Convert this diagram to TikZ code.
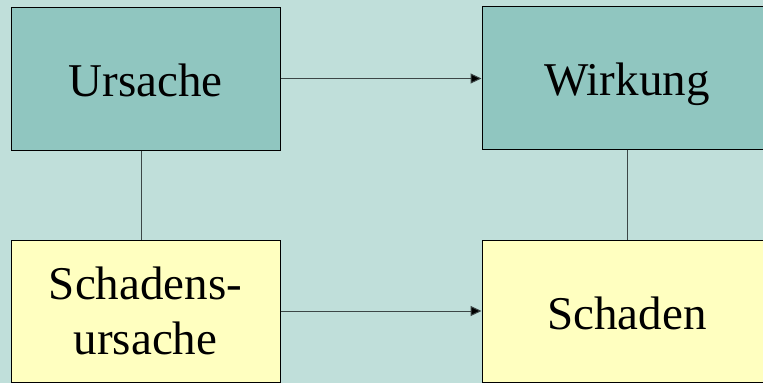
\documentclass[tikz,border=0pt]{standalone}
\usepackage{fontspec}
\setmainfont{Liberation Serif}
\usetikzlibrary{arrows.meta}
\definecolor{bgc}{HTML}{C0DFDA}
\definecolor{tealc}{HTML}{90C6C0}
\definecolor{yelc}{HTML}{FFFFC0}
\definecolor{linec}{HTML}{3C4646}
\tikzset{
  box/.style={draw=black, line width=1pt, rectangle, inner sep=0pt, align=center,
    font=\fontsize{47}{55.7}\selectfont},
  oneline/.style={text height=36pt, text depth=0pt},
  topbox/.style={box, oneline, fill=tealc},
  botbox/.style={box, fill=yelc},
  conn/.style={draw=linec, line width=1pt},
  arr/.style={conn, -{Triangle[length=11pt,width=10pt,fill=black]}}
}
\begin{document}
\begin{tikzpicture}[x=1pt,y=-1pt]
\useasboundingbox (0,0) rectangle (763,383);
\clip (0,0) rectangle (763,383);
\fill[bgc] (0,0) rectangle (763,383);
\node[topbox, minimum width=269pt, minimum height=143pt] (ursache) at (145.5,78.5) {Ursache};
\node[topbox, minimum width=290pt, minimum height=143pt] (wirkung) at (627,77.5) {Wirkung};
\node[botbox, minimum width=269pt, minimum height=142pt] (sursache) at (145.5,311) {Schadens-\\ursache};
\node[botbox, oneline, minimum width=290pt, minimum height=142pt] (schaden) at (627,311) {Schaden};
\draw[arr] (ursache.east) -- (wirkung.west |- ursache.east);
\draw[arr] (sursache.east) -- (schaden.west);
\draw[conn] ([xshift=-4.5pt]ursache.south) -- ([xshift=-4.5pt]sursache.north);
\draw[conn] (wirkung.south) -- (schaden.north);
\end{tikzpicture}
\end{document}
